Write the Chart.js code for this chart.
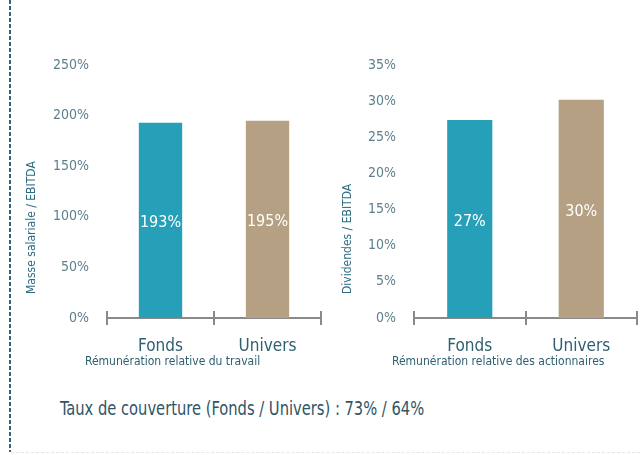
<!DOCTYPE html>
<html>
<head>
<meta charset="utf-8">
<script src="https://cdn.jsdelivr.net/npm/chart.js@4.4.0/dist/chart.umd.min.js"></script>
<style>
  body { margin: 0; width: 640px; height: 455px; background: #fff; position: relative; overflow: hidden;
         font-family: "Liberation Sans Narrow", "DejaVu Sans Condensed", Roboto, sans-serif; }
  .frame { position: absolute; left: 9px; top: 0; width: 2px; height: 452px;
           background: repeating-linear-gradient(to bottom, #2f6477 0 4px, transparent 4px 6px); }
  .bottom { position: absolute; left: 11px; top: 452px; width: 629px; height: 0; border-top: 1px dashed #e3e7e8; }
  #wrapTravail { position: absolute; left: 10px; top: 40px; width: 312px; height: 340px; }
  #wrapActio { position: absolute; left: 320px; top: 40px; width: 320px; height: 340px; }
  .taux { position: absolute; left: 60px; top: 397px; font-size: 19px; color: #2f5566; white-space: nowrap;
          transform: scaleX(0.86); transform-origin: left center; }
</style>
</head>
<body>
<div class="frame"></div>
<div class="bottom"></div>
<div id="wrapTravail"><canvas id="chartTravail"></canvas></div>
<div id="wrapActio"><canvas id="chartActio"></canvas></div>
<div class="taux">Taux de couverture (Fonds / Univers) : 73% / 64%</div>
<script>
// données
const categories = ['Fonds', 'Univers'];
const masseSalariale = [193, 195];
const dividendes = [27.4, 30.2];
const couleurs = ['#26a0b8', '#b5a083'];

const FONT = '"Liberation Sans Narrow", "DejaVu Sans Condensed", Roboto, sans-serif';
const tickColor = '#5d7f8b';
const titleColor = '#2f5f70';

// valeurs dans les barres
const valeursPlugin = {
    id: 'valeurs',
    afterDatasetsDraw(chart) {
        const ctx = chart.ctx;
        const meta = chart.getDatasetMeta(0);
        const data = chart.data.datasets[0].data;
        ctx.save();
        ctx.fillStyle = '#ffffff';
        ctx.font = '16px ' + FONT;
        ctx.textAlign = 'center';
        ctx.textBaseline = 'middle';
        meta.data.forEach(function (bar, i) {
            const mid = (bar.y + bar.base) / 2;
            ctx.fillText(Math.round(data[i]) + '%', bar.x, mid + 3);
        });
        ctx.restore();
    }
};

// petits traits au-dessus de l'axe x + titres des axes
const axesPlugin = {
    id: 'axes',
    afterDraw(chart, args, opts) {
        const x = chart.scales.x;
        const y = chart.scales.y;
        const ctx = chart.ctx;
        const n = chart.data.labels.length;
        ctx.save();
        ctx.strokeStyle = '#8a8a8a';
        ctx.lineWidth = 2;
        for (let i = 0; i <= n; i++) {
            const px = Math.round(x.left + i * (x.width / n));
            ctx.beginPath();
            ctx.moveTo(px, x.top - 7);
            ctx.lineTo(px, x.top);
            ctx.stroke();
        }
        // titre axe x, aligné à gauche sous les catégories
        ctx.fillStyle = titleColor;
        ctx.font = '12px ' + FONT;
        ctx.textAlign = 'left';
        ctx.textBaseline = 'middle';
        ctx.fillText(opts.xTitle, x.left - 22, x.bottom - 18);
        // titre axe y, vertical
        ctx.translate(y.left + opts.yTitleX, y.bottom - 24);
        ctx.rotate(-Math.PI / 2);
        ctx.fillStyle = '#2e6c82';
        ctx.fillText(opts.yTitle, 0, 0);
        ctx.restore();
    }
};

function makeConfig(values, max, step, yTitle, xTitle, yWidth, padRight, yTitleX) {
    return {
        type: 'bar',
        data: {
            labels: categories,
            datasets: [{
                data: values,
                backgroundColor: couleurs,
                categoryPercentage: 1,
                barPercentage: 0.405
            }]
        },
        options: {
            responsive: true,
            maintainAspectRatio: false,
            animation: false,
            layout: { padding: { top: 25, right: padRight, left: 0, bottom: 0 } },
            plugins: {
                legend: { display: false },
                tooltip: { enabled: false },
                axes: { xTitle: xTitle, yTitle: yTitle, yTitleX: yTitleX }
            },
            scales: {
                x: {
                    grid: { drawOnChartArea: false, tickLength: 7, color: '#8a8a8a', lineWidth: 2, offset: true },
                    border: { color: '#8a8a8a', width: 2 },
                    ticks: { color: titleColor, font: { family: FONT, size: 17 }, padding: 11 },
                    afterFit(scale) { scale.height = 62; }
                },
                y: {
                    min: 0,
                    max: max,
                    grid: { display: false },
                    border: { display: false },
                    ticks: {
                        stepSize: step,
                        padding: 10,
                        color: tickColor,
                        font: { family: FONT, size: 14 },
                        callback: function (v) { return v + '%'; }
                    },
                    afterFit(scale) { scale.width = yWidth; }
                }
            }
        },
        plugins: [valeursPlugin, axesPlugin]
    };
}

let chartTravail = new Chart(
    document.getElementById('chartTravail'),
    makeConfig(masseSalariale, 250, 50, 'Masse salariale / EBITDA', 'Rémunération relative du travail', 97, 1, 22)
);

let chartActio = new Chart(
    document.getElementById('chartActio'),
    makeConfig(dividendes, 35, 5, 'Dividendes / EBITDA', 'Rémunération relative des actionnaires', 94, 3, 28)
);
</script>
</body>
</html>
